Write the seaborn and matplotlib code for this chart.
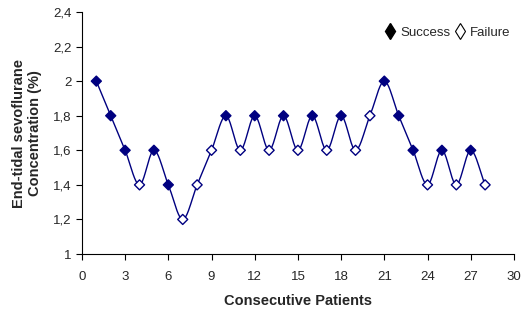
import numpy as np
import pandas as pd
import matplotlib
matplotlib.use("Agg")
import matplotlib.pyplot as plt
from matplotlib.lines import Line2D
from matplotlib.ticker import FuncFormatter
import seaborn as sns

# -----------------------------
# Data
# -----------------------------
patients = list(range(1, 29))
concentration = [2.0, 1.8, 1.6, 1.4, 1.6, 1.4, 1.2, 1.4, 1.6, 1.8,
                 1.6, 1.8, 1.6, 1.8, 1.6, 1.8, 1.6, 1.8, 1.6, 1.8,
                 2.0, 1.8, 1.6, 1.4, 1.6, 1.4, 1.6, 1.4]
outcome = ["Success", "Success", "Success", "Failure", "Success", "Success", "Failure",
           "Failure", "Failure", "Success", "Failure", "Success", "Failure", "Success",
           "Failure", "Success", "Failure", "Success", "Failure", "Failure", "Success",
           "Success", "Success", "Failure", "Success", "Failure", "Success", "Failure"]

df = pd.DataFrame({"Patient": patients, "Conc": concentration, "Outcome": outcome})


# smoothed connecting line (Excel-style), Catmull-Rom through the data points
def smooth(x, y, n=20):
    x = np.asarray(x, float)
    y = np.asarray(y, float)
    px = np.concatenate([[2 * x[0] - x[1]], x, [2 * x[-1] - x[-2]]])
    py = np.concatenate([[2 * y[0] - y[1]], y, [2 * y[-1] - y[-2]]])
    xs, ys = [], []
    t = np.linspace(0, 1, n, endpoint=False)
    for i in range(1, len(px) - 2):
        for arr, out in ((px, xs), (py, ys)):
            p0, p1, p2, p3 = arr[i - 1], arr[i], arr[i + 1], arr[i + 2]
            out.extend(0.5 * (2 * p1 + (-p0 + p2) * t
                              + (2 * p0 - 5 * p1 + 4 * p2 - p3) * t ** 2
                              + (-p0 + 3 * p1 - 3 * p2 + p3) * t ** 3))
    xs.append(x[-1])
    ys.append(y[-1])
    return np.array(xs), np.array(ys)


sx, sy = smooth(df["Patient"], df["Conc"])
curve = pd.DataFrame({"x": sx, "y": sy})

# -----------------------------
# Plot
# -----------------------------
sns.set_style("white")
plt.rcParams["font.family"] = ["Liberation Sans", "DejaVu Sans"]

fig = plt.figure(figsize=(5.32, 3.24), dpi=100)
ax = fig.add_axes([0.154, 0.216, 0.812, 0.747])

navy = "#000080"
sns.lineplot(data=curve, x="x", y="y", ax=ax, color=navy, linewidth=1.0,
             sort=False, estimator=None)
sns.scatterplot(data=df, x="Patient", y="Conc", hue="Outcome", style="Outcome",
                markers={"Success": "D", "Failure": "D"},
                palette={"Success": navy, "Failure": "white"},
                edgecolor=navy, linewidth=1.0, s=26, ax=ax, legend=False, zorder=3)

ax.set_xlim(0, 30)
ax.set_ylim(1, 2.4)
ax.set_xticks(np.arange(0, 31, 3))
ax.set_yticks(np.arange(1, 2.41, 0.2))
ax.yaxis.set_major_formatter(FuncFormatter(lambda v, p: f"{v:g}".replace(".", ",")))
ax.tick_params(axis="both", direction="out", length=4, width=0.8, labelsize=9.5,
               bottom=True, left=True, color="black")
ax.tick_params(axis="x", pad=8)

for s in ["top", "right"]:
    ax.spines[s].set_visible(False)
for s in ["left", "bottom"]:
    ax.spines[s].set_color("black")
    ax.spines[s].set_linewidth(0.8)

ax.set_xlabel("Consecutive Patients", fontsize=10.5, fontweight="bold", labelpad=8)
ax.set_ylabel("End-tidal sevoflurane\nConcentration (%)", fontsize=10.5,
              fontweight="bold", labelpad=8)

handles = [Line2D([], [], marker="d", color="black", linestyle="none", markersize=8),
           Line2D([], [], marker="d", markerfacecolor="white", markeredgecolor="black",
                  linestyle="none", markersize=8, markeredgewidth=0.8)]
ax.legend(handles, ["Success", "Failure"], ncol=2, frameon=False, loc="upper right",
          bbox_to_anchor=(1.02, 0.99), fontsize=9.5, handlelength=0.8,
          handletextpad=0.4, columnspacing=0.3)

fig.savefig("out.png", dpi=100)
